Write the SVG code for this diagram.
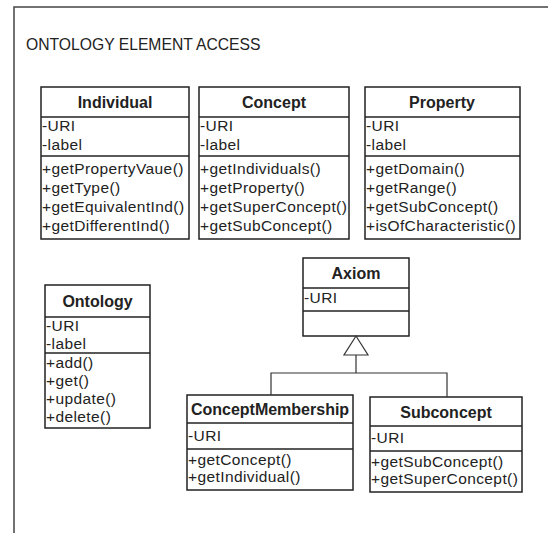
<svg xmlns="http://www.w3.org/2000/svg" width="548" height="533" viewBox="0 0 548 533">
<style>
.box{fill:#fff;stroke:#222;stroke-width:1.5}
.sep{stroke:#222;stroke-width:1.5}
.hd{font-family:"Liberation Sans",Arial,sans-serif;font-weight:bold;font-size:16px;fill:#222;text-anchor:middle}
.t{font-family:"Liberation Sans",Arial,sans-serif;font-size:15.5px;letter-spacing:0.4px;fill:#222}
.title{font-family:"Liberation Sans",Arial,sans-serif;font-size:15.7px;fill:#222}
.con{fill:none;stroke:#333;stroke-width:1.2}
</style>
<rect width="548" height="533" fill="#fff"/>
<path d="M14,533 V7 H548" fill="none" stroke="#444" stroke-width="1.5"/>
<text class="title" x="26" y="50">ONTOLOGY ELEMENT ACCESS</text>

<g id="individual">
<rect class="box" x="41" y="87" width="148" height="152"/>
<line class="sep" x1="41" y1="117" x2="189" y2="117"/>
<line class="sep" x1="41" y1="156" x2="189" y2="156"/>
<text class="hd" x="115" y="108">Individual</text>
<text class="t" x="42" y="131">-URI</text>
<text class="t" x="42" y="150">-label</text>
<text class="t" x="42" y="174">+getPropertyVaue()</text>
<text class="t" x="42" y="193">+getType()</text>
<text class="t" x="42" y="212">+getEquivalentInd()</text>
<text class="t" x="42" y="231">+getDifferentInd()</text>
</g>

<g id="concept">
<rect class="box" x="199" y="87" width="150" height="152"/>
<line class="sep" x1="199" y1="117" x2="349" y2="117"/>
<line class="sep" x1="199" y1="156" x2="349" y2="156"/>
<text class="hd" x="274" y="108">Concept</text>
<text class="t" x="200" y="131">-URI</text>
<text class="t" x="200" y="150">-label</text>
<text class="t" x="200" y="174">+getIndividuals()</text>
<text class="t" x="200" y="193">+getProperty()</text>
<text class="t" x="200" y="212">+getSuperConcept()</text>
<text class="t" x="200" y="231">+getSubConcept()</text>
</g>

<g id="property">
<rect class="box" x="365" y="87" width="155" height="152"/>
<line class="sep" x1="365" y1="117" x2="520" y2="117"/>
<line class="sep" x1="365" y1="156" x2="520" y2="156"/>
<text class="hd" x="442" y="108">Property</text>
<text class="t" x="366" y="131">-URI</text>
<text class="t" x="366" y="150">-label</text>
<text class="t" x="366" y="174">+getDomain()</text>
<text class="t" x="366" y="193">+getRange()</text>
<text class="t" x="366" y="212">+getSubConcept()</text>
<text class="t" x="366" y="231">+isOfCharacteristic()</text>
</g>

<g id="ontology">
<rect class="box" x="45" y="285" width="105" height="143"/>
<line class="sep" x1="45" y1="317" x2="150" y2="317"/>
<line class="sep" x1="45" y1="353" x2="150" y2="353"/>
<text class="hd" x="97.5" y="307">Ontology</text>
<text class="t" x="46" y="331">-URI</text>
<text class="t" x="46" y="349">-label</text>
<text class="t" x="46" y="368">+add()</text>
<text class="t" x="46" y="386">+get()</text>
<text class="t" x="46" y="404">+update()</text>
<text class="t" x="46" y="422">+delete()</text>
</g>

<g id="axiom">
<rect class="box" x="303" y="258" width="106" height="78"/>
<line class="sep" x1="303" y1="288" x2="409" y2="288"/>
<line class="sep" x1="303" y1="311" x2="409" y2="311"/>
<text class="hd" x="356" y="279">Axiom</text>
<text class="t" x="304" y="303">-URI</text>
</g>

<g id="conceptmembership">
<rect class="box" x="187" y="395" width="166" height="95"/>
<line class="sep" x1="187" y1="423" x2="353" y2="423"/>
<line class="sep" x1="187" y1="449" x2="353" y2="449"/>
<text class="hd" x="270" y="415">ConceptMembership</text>
<text class="t" x="188" y="441">-URI</text>
<text class="t" x="188" y="465">+getConcept()</text>
<text class="t" x="188" y="482">+getIndividual()</text>
</g>

<g id="subconcept">
<rect class="box" x="370" y="397" width="152" height="95"/>
<line class="sep" x1="370" y1="426" x2="522" y2="426"/>
<line class="sep" x1="370" y1="451" x2="522" y2="451"/>
<text class="hd" x="446" y="418">Subconcept</text>
<text class="t" x="371" y="443">-URI</text>
<text class="t" x="371" y="467">+getSubConcept()</text>
<text class="t" x="371" y="484">+getSuperConcept()</text>
</g>

<g id="connectors">
<path class="con" d="M356,355 V373 M271,395 V373 H447 V397"/>
<polygon points="356,336 344,355 368,355" fill="#fff" stroke="#333" stroke-width="1.2"/>
</g>
</svg>
